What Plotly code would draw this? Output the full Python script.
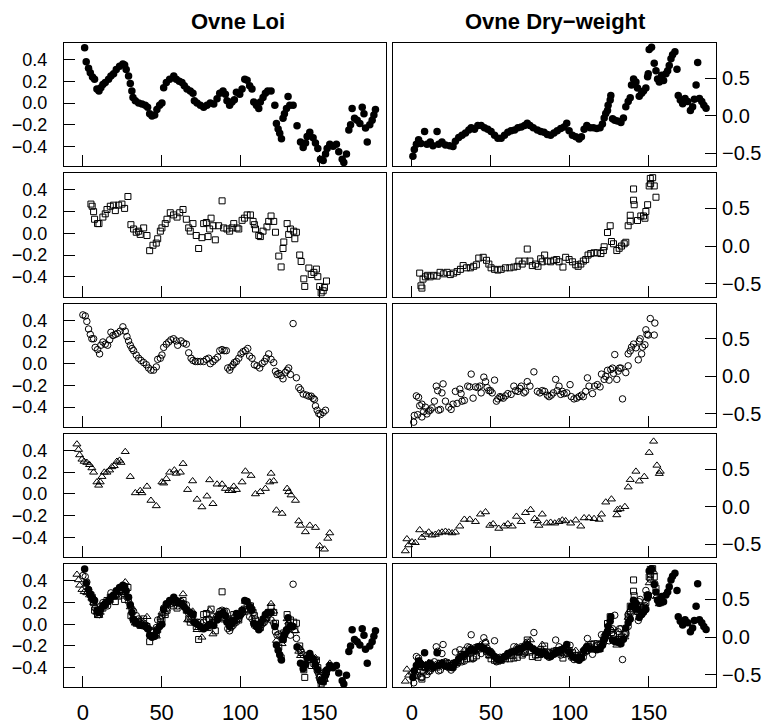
import plotly.graph_objects as go

# ---------------- data ----------------
# Ovne Loi (left column), four series
loi_a_x = [1.1, 2.1, 3.6, 4.7, 6.1, 7.4, 8.9, 10.2, 11.4, 12.7, 14.2, 16.3, 17.8, 19.5, 21.2, 23.3, 25.4, 26.5,
           27.5, 29.0, 30.1, 31.1, 31.8, 33.3, 35.4, 37.5, 39.6, 41.1, 42.4, 43.9, 45.6, 47.0, 48.7, 50.2, 51.3,
           53.0, 55.1, 57.7, 59.3, 61.2, 62.9, 64.4, 66.1, 68.2, 69.9, 70.8, 72.5, 74.6, 76.7, 78.8, 80.9, 83.1,
           85.2, 86.9, 89.0, 90.5, 91.5, 93.2, 94.7, 96.2, 97.5, 99.6, 101.1, 102.8, 104.3, 105.9, 107.4, 108.5,
           110.2, 111.7, 112.7, 114.4, 115.9, 117.4, 119.5, 121.9, 122.9, 124.0, 125.0, 126.1, 127.1, 128.0,
           129.3, 130.3, 131.4, 133.5, 136.0, 138.2, 139.9, 141.4, 142.4, 144.1, 146.2, 147.7, 149.2, 150.9,
           152.6, 154.1, 155.1, 156.8, 158.9, 161.0, 162.5, 164.7, 165.7, 167.4, 168.9, 170.0, 171.0, 172.5,
           174.2, 175.9, 177.4, 178.5, 179.5, 180.6, 182.2, 183.7, 184.8, 185.8]
loi_a_y = [0.51, 0.38, 0.32, 0.28, 0.24, 0.22, 0.13, 0.11, 0.14, 0.17, 0.19, 0.22, 0.25, 0.27, 0.31, 0.34, 0.36, 0.35,
           0.31, 0.25, 0.18, 0.11, 0.05, 0.02, 0.00, -0.01, -0.02, -0.04, -0.10, -0.12, -0.11, -0.06, -0.02, 0.00,
           0.14, 0.19, 0.22, 0.25, 0.22, 0.20, 0.19, 0.16, 0.13, 0.11, 0.09, 0.02, 0.00, -0.02, -0.04, -0.02, 0.00,
           -0.01, 0.04, 0.09, 0.11, 0.08, 0.02, -0.02, 0.01, 0.03, 0.10, 0.08, 0.13, 0.22, 0.21, 0.16, 0.13, 0.01,
           -0.02, -0.05, 0.01, 0.05, 0.09, 0.11, 0.11, -0.02, -0.19, -0.24, -0.28, -0.33, -0.14, -0.10, -0.05,
           0.06, -0.02, -0.02, -0.21, -0.36, -0.41, -0.37, -0.31, -0.27, -0.32, -0.37, -0.42, -0.52, -0.53,
           -0.47, -0.42, -0.38, -0.40, -0.38, -0.45, -0.52, -0.55, -0.47, -0.25, -0.20, -0.05, -0.14, -0.16,
           -0.19, -0.04, -0.10, -0.23, -0.36, -0.20, -0.16, -0.11, -0.06]

loi_b_x = [5.1, 5.9, 6.8, 7.4, 9.3, 10.2, 12.7, 14.2, 15.3, 17.4, 19.5, 20.6, 22.7, 24.8, 26.5, 28.6, 30.5, 32.2,
           33.9, 35.4, 36.4, 38.6, 40.7, 42.4, 44.5, 46.6, 47.5, 49.2, 50.2, 52.3, 53.4, 55.5, 57.6, 59.8, 61.5,
           63.6, 65.7, 67.2, 68.2, 69.9, 72.0, 73.5, 75.6, 76.7, 78.4, 79.5, 80.5, 81.4, 82.7, 84.1, 86.2, 88.4,
           89.4, 91.5, 93.2, 94.7, 95.8, 97.9, 99.0, 101.1, 102.6, 104.3, 106.4, 108.1, 108.9, 109.6, 111.7,
           112.7, 114.4, 116.9, 118.0, 119.5, 121.2, 122.3, 124.4, 125.9, 127.1, 127.6, 129.7, 130.7, 131.8,
           133.9, 134.6, 135.6, 137.7, 138.6, 140.3, 140.9, 143.5, 145.0, 146.7, 148.3, 149.2, 150.4, 151.3,
           152.6, 153.4, 154.7]
loi_b_y = [0.27, 0.25, 0.20, 0.13, 0.09, 0.09, 0.15, 0.18, 0.22, 0.25, 0.26, 0.21, 0.26, 0.27, 0.23, 0.34, 0.08, 0.04,
           0.01, 0.02, -0.01, 0.05, -0.02, -0.16, -0.11, -0.09, -0.05, 0.02, 0.05, 0.09, 0.13, 0.19, 0.17, 0.15,
           0.19, 0.22, 0.13, 0.05, 0.02, 0.09, -0.02, -0.14, -0.04, 0.09, 0.10, -0.03, 0.04, 0.14, 0.07, -0.06,
           0.07, 0.30, 0.05, 0.04, 0.02, 0.05, 0.09, 0.05, 0.04, 0.12, 0.14, 0.17, 0.17, 0.11, 0.08, 0.04, -0.02,
           -0.03, 0.02, 0.06, 0.11, 0.16, 0.11, 0.01, -0.21, -0.31, -0.14, -0.08, 0.09, -0.01, 0.04, 0.02,
           -0.05, 0.01, -0.20, -0.26, -0.42, -0.49, -0.32, -0.38, -0.36, -0.33, -0.40, -0.49, -0.55, -0.53,
           -0.50, -0.44]

loi_c_x = [0.0, 1.5, 2.5, 3.6, 4.7, 5.7, 6.8, 7.8, 9.3, 10.6, 11.4, 12.7, 14.2, 15.7, 17.0, 17.8, 19.1, 20.6, 22.0,
           23.7, 25.4, 26.9, 28.0, 29.0, 30.1, 31.2, 32.2, 33.9, 35.4, 36.9, 38.6, 40.3, 41.7, 43.2, 44.9, 46.6,
           47.5, 49.2, 50.2, 51.3, 53.0, 54.5, 55.9, 57.6, 59.3, 60.2, 62.3, 64.0, 65.7, 67.2, 68.7, 69.9, 71.4,
           72.9, 74.6, 76.7, 78.4, 79.9, 80.9, 82.6, 84.1, 85.6, 86.9, 88.4, 89.8, 91.1, 92.0, 93.2, 94.1, 95.4,
           96.2, 97.5, 99.0, 100.4, 101.7, 103.2, 104.7, 105.9, 107.4, 108.9, 110.6, 112.3, 113.8, 115.3, 116.5,
           118.0, 119.5, 121.2, 122.3, 123.3, 124.4, 125.9, 127.1, 128.6, 129.7, 130.7, 131.8, 133.5, 135.6,
           137.1, 138.2, 139.9, 142.0, 143.5, 145.0, 146.2, 147.1, 147.7, 148.8, 149.8, 150.9, 152.6, 154.1]
loi_c_y = [0.45, 0.44, 0.39, 0.32, 0.27, 0.23, 0.23, 0.15, 0.13, 0.09, 0.17, 0.20, 0.18, 0.17, 0.22, 0.29, 0.26, 0.27,
           0.28, 0.30, 0.34, 0.30, 0.25, 0.21, 0.17, 0.14, 0.12, 0.08, 0.05, 0.03, 0.01, -0.01, -0.04, -0.06,
           -0.06, -0.03, 0.04, 0.05, 0.08, 0.15, 0.18, 0.20, 0.22, 0.23, 0.21, 0.17, 0.21, 0.19, 0.18, 0.10, 0.05,
           0.03, 0.02, 0.02, 0.02, 0.02, 0.04, 0.05, 0.00, 0.02, 0.04, 0.06, 0.12, 0.13, 0.12, 0.12, -0.04, -0.06,
           -0.03, -0.01, 0.01, 0.02, 0.05, 0.09, 0.11, 0.12, 0.14, 0.07, 0.05, -0.01, -0.02, -0.04, 0.00, 0.02,
           0.05, 0.09, 0.04, 0.01, -0.07, -0.10, -0.09, -0.11, -0.14, -0.08, -0.06, -0.04, -0.10, 0.37, -0.13,
           -0.22, -0.24, -0.28, -0.29, -0.30, -0.30, -0.32, -0.33, -0.39, -0.43, -0.46, -0.47, -0.45, -0.43]

loi_d_x = [-3.8, -2.8, -2.1, -0.6, 0.8, 2.5, 4.2, 5.7, 6.8, 8.9, 10.0, 11.0, 12.1, 13.6, 15.3, 17.0, 18.4, 19.9,
           21.6, 23.3, 24.2, 26.9, 30.1, 33.3, 36.4, 37.5, 40.7, 43.2, 46.6, 50.2, 51.3, 53.0, 55.1, 58.1, 59.3,
           61.9, 63.6, 66.5, 69.7, 72.5, 75.6, 78.8, 80.5, 82.6, 85.2, 88.4, 90.5, 92.6, 94.7, 95.8, 97.5, 101.1,
           103.2, 106.8, 109.6, 112.7, 115.9, 118.7, 119.5, 121.2, 122.9, 126.5, 129.7, 130.7, 132.2, 135.0,
           137.1, 138.2, 141.3, 144.1, 147.7, 150.4, 153.4, 155.5, 156.8]
loi_d_y = [0.46, 0.41, 0.36, 0.32, 0.30, 0.29, 0.27, 0.24, 0.20, 0.11, 0.08, 0.11, 0.16, 0.20, 0.20, 0.22, 0.25, 0.26,
           0.30, 0.31, 0.29, 0.39, 0.16, 0.01, 0.03, 0.01, 0.07, -0.06, -0.11, 0.11, 0.10, 0.14, 0.20, 0.22, 0.19,
           0.20, 0.28, 0.04, 0.12, -0.05, -0.12, -0.02, 0.13, -0.09, 0.09, 0.09, 0.05, 0.03, 0.03, 0.07, 0.04,
           0.11, 0.21, 0.17, 0.00, 0.02, 0.05, 0.11, 0.19, 0.12, -0.15, -0.18, 0.05, 0.02, -0.01, -0.06, -0.25,
           -0.29, -0.35, -0.29, -0.31, -0.48, -0.51, -0.41, -0.36]

# Ovne Dry-weight (right column), four series
dw_a_x = [0.6, 1.5, 2.8, 4.2, 5.7, 8.0, 9.5, 11.6, 13.3, 15.9, 16.9, 19.0, 21.2, 23.9, 26.0, 27.5, 29.6, 31.7,
          33.9, 36.0, 37.5, 39.6, 41.7, 43.8, 45.9, 48.0, 50.1, 52.3, 54.4, 56.5, 58.6, 60.7, 62.8, 65.0, 67.1,
          69.2, 71.3, 73.0, 74.7, 76.8, 79.4, 81.5, 83.6, 85.7, 87.8, 89.9, 92.0, 94.2, 96.3, 98.0, 99.5, 101.6,
          103.7, 105.8, 107.3, 109.0, 110.7, 112.8, 114.9, 117.0, 119.1, 120.6, 121.7, 122.7, 123.8, 124.2,
          125.5, 125.9, 127.0, 128.4, 130.1, 132.3, 133.9, 135.4, 136.9, 138.2, 139.0, 140.3, 141.8, 142.8,
          143.9, 145.4, 146.6, 148.1, 149.2, 149.6, 150.2, 151.7, 153.4, 154.5, 155.5, 156.6, 158.1, 159.3,
          160.8, 161.9, 162.9, 164.0, 165.0, 166.5, 167.8, 168.6, 169.9, 171.4, 172.9, 174.6, 176.3, 177.7,
          178.8, 179.9, 180.9, 182.0, 183.5, 184.8, 186.2]
dw_a_y = [-0.54, -0.45, -0.38, -0.32, -0.37, -0.21, -0.38, -0.35, -0.40, -0.21, -0.38, -0.35, -0.39, -0.40, -0.41,
          -0.34, -0.29, -0.26, -0.23, -0.19, -0.16, -0.18, -0.13, -0.13, -0.16, -0.18, -0.21, -0.26, -0.30, -0.30,
          -0.26, -0.22, -0.20, -0.19, -0.16, -0.15, -0.13, -0.10, -0.13, -0.16, -0.19, -0.21, -0.22, -0.25, -0.26,
          -0.23, -0.20, -0.17, -0.15, -0.10, -0.20, -0.26, -0.28, -0.31, -0.28, -0.18, -0.13, -0.16, -0.16, -0.17,
          -0.16, -0.11, -0.03, 0.03, 0.07, 0.14, 0.21, 0.27, -0.04, -0.06, -0.07, -0.09, -0.03, 0.12, 0.19, 0.24,
          0.41, 0.49, 0.45, 0.37, 0.26, 0.30, 0.33, 0.37, 0.52, 0.56, 0.88, 0.91, 0.70, 0.60, 0.49, 0.45, 0.54,
          0.47, 0.56, 0.60, 0.67, 0.76, 0.81, 0.85, 0.62, 0.27, 0.21, 0.16, 0.23, 0.19, 0.07, 0.12, 0.22, 0.41,
          0.71, 0.23, 0.19, 0.14, 0.10]

dw_b_x = [4.9, 5.7, 6.3, 7.0, 8.5, 9.9, 11.6, 13.8, 15.9, 17.8, 20.1, 22.2, 24.3, 26.4, 28.6, 30.7, 32.4, 34.5,
          37.0, 39.1, 40.8, 42.3, 45.1, 47.2, 48.7, 50.1, 52.3, 54.4, 56.5, 59.2, 62.0, 64.5, 66.7, 67.7, 69.8,
          71.5, 73.0, 74.7, 76.2, 78.3, 79.8, 81.5, 82.5, 84.0, 85.7, 87.8, 89.9, 91.6, 93.1, 95.6, 97.3, 99.5,
          101.6, 103.7, 105.2, 106.9, 108.5, 110.0, 111.5, 113.2, 115.3, 117.4, 119.6, 121.2, 121.7, 123.8,
          125.5, 126.3, 127.6, 129.7, 131.2, 132.7, 134.4, 135.4, 136.9, 138.2, 138.2, 140.3, 140.7, 140.3,
          142.8, 144.9, 146.6, 147.5, 148.1, 149.2, 150.2, 150.9, 151.1, 152.4, 153.4, 154.5]
dw_b_y = [-0.36, -0.53, -0.56, -0.44, -0.41, -0.39, -0.41, -0.39, -0.40, -0.35, -0.37, -0.35, -0.38, -0.36, -0.34,
          -0.31, -0.26, -0.29, -0.29, -0.27, -0.25, -0.16, -0.15, -0.19, -0.24, -0.29, -0.31, -0.32, -0.31, -0.29,
          -0.29, -0.28, -0.27, -0.20, -0.24, -0.20, -0.04, -0.20, -0.26, -0.24, -0.27, -0.17, -0.21, -0.12, -0.20,
          -0.21, -0.19, -0.18, -0.21, -0.28, -0.15, -0.18, -0.21, -0.25, -0.27, -0.24, -0.20, -0.18, -0.12, -0.10,
          -0.09, -0.09, -0.10, -0.06, -0.01, 0.18, 0.27, 0.06, 0.03, -0.06, -0.03, 0.00, 0.03, 0.05, 0.27, 0.33,
          0.41, 0.61, 0.55, 0.76, 0.34, 0.40, 0.40, 0.37, 0.46, 0.55, 0.80, 0.90, 0.83, 0.91, 0.80, 0.65]

dw_c_x = [1.1, 1.5, 2.8, 4.2, 3.6, 4.9, 6.3, 6.3, 7.4, 8.5, 9.5, 10.6, 11.6, 12.7, 14.2, 15.4, 16.3, 16.9, 18.0,
          19.0, 19.7, 21.2, 23.3, 24.8, 26.0, 27.5, 28.6, 30.3, 31.1, 31.7, 33.2, 35.3, 36.6, 37.5, 38.7, 40.2,
          41.7, 43.0, 43.8, 45.5, 46.6, 47.6, 48.7, 49.7, 50.8, 52.3, 53.5, 54.4, 55.7, 56.5, 57.8, 59.2, 60.7,
          62.8, 64.5, 65.6, 67.1, 68.3, 69.2, 70.9, 71.9, 73.0, 74.7, 77.2, 79.4, 81.0, 82.5, 84.0, 85.7, 86.8,
          88.2, 89.5, 91.0, 92.0, 93.1, 94.2, 95.2, 96.3, 98.0, 100.1, 100.9, 102.6, 104.3, 105.8, 107.3, 108.5,
          110.0, 111.1, 112.1, 114.3, 115.7, 117.4, 119.1, 120.0, 121.7, 122.7, 123.8, 124.8, 125.9, 127.0,
          127.6, 128.4, 129.7, 130.6, 131.4, 132.3, 133.3, 135.4, 136.9, 136.9, 138.2, 139.0, 140.3, 141.8,
          143.3, 143.9, 144.5, 145.4, 146.0, 147.5, 148.1, 148.8, 149.6, 150.9, 153.4, 153.8]
dw_c_y = [-0.61, -0.52, -0.26, -0.28, -0.51, -0.39, -0.37, -0.54, -0.47, -0.41, -0.50, -0.46, -0.45, -0.42, -0.33,
          -0.13, -0.19, -0.45, -0.44, -0.22, -0.10, -0.33, -0.41, -0.44, -0.37, -0.20, -0.36, -0.17, -0.23, -0.33,
          -0.32, -0.13, -0.14, 0.03, -0.29, -0.14, -0.15, -0.13, -0.22, -0.01, -0.07, -0.15, -0.19, -0.19, -0.22,
          -0.05, -0.33, -0.30, -0.27, -0.28, -0.29, -0.26, -0.23, -0.24, -0.13, -0.19, -0.20, -0.16, -0.13, -0.22,
          -0.20, -0.07, -0.13, 0.06, -0.20, -0.22, -0.19, -0.20, -0.25, -0.27, -0.25, -0.22, -0.04, -0.19, -0.13,
          -0.24, -0.20, -0.23, -0.22, -0.11, -0.27, -0.30, -0.29, -0.27, -0.25, -0.27, -0.20, -0.02, -0.13, -0.23,
          -0.13, -0.11, -0.14, 0.03, -0.04, 0.00, 0.08, -0.05, 0.09, 0.11, 0.04, 0.29, -0.04, 0.07, 0.11, 0.11,
          -0.30, 0.05, 0.14, 0.30, 0.34, 0.39, 0.43, 0.38, 0.22, 0.47, 0.50, 0.30, 0.39, 0.42, 0.62, 0.56, 0.55,
          0.77, 0.55, 0.71]

dw_d_x = [-4.2, -3.2, -2.1, 0.0, 2.1, 4.9, 6.3, 8.5, 10.6, 12.7, 14.8, 16.9, 19.0, 21.2, 23.3, 25.4, 27.5, 30.3,
          33.2, 36.6, 40.2, 43.4, 46.6, 49.3, 51.4, 55.0, 58.2, 60.7, 63.5, 66.2, 69.2, 71.9, 75.1, 77.7, 79.4,
          80.4, 82.5, 85.3, 87.8, 90.4, 93.1, 95.2, 97.3, 100.5, 103.7, 106.9, 109.0, 112.1, 115.3, 118.5, 120.0,
          122.7, 126.3, 129.7, 130.1, 131.8, 134.8, 136.9, 138.2, 141.8, 143.9, 147.1, 150.2, 153.0, 155.1, 156.6,
          157.2]
dw_d_y = [-0.59, -0.43, -0.51, -0.47, -0.48, -0.31, -0.41, -0.37, -0.34, -0.38, -0.37, -0.35, -0.34, -0.33, -0.34,
          -0.35, -0.34, -0.26, -0.17, -0.17, -0.20, -0.10, -0.07, -0.25, -0.23, -0.29, -0.26, -0.23, -0.26, -0.13,
          -0.20, -0.08, -0.04, -0.16, -0.19, -0.25, -0.10, -0.22, -0.21, -0.22, -0.20, -0.18, -0.19, -0.22, -0.18,
          -0.26, -0.15, -0.15, -0.16, -0.17, -0.10, 0.06, 0.10, -0.11, -0.04, -0.03, 0.00, 0.26, 0.36, 0.47, 0.34,
          0.40, 0.72, 0.87, 0.55, 0.44, 0.47]

column_titles = ["Ovne Loi", "Ovne Dry\u2212weight"]
x_ticks = [0, 50, 100, 150]
loi_ticks = [-0.4, -0.2, 0.0, 0.2, 0.4]
dw_ticks = [-0.5, 0.0, 0.5]

# ---------------- figure ----------------
W, H = 774, 725
FONT = "Liberation Sans"

styles = [
    dict(symbol="circle", size=7.5, color="black", line=dict(width=0)),
    dict(symbol="square-open", size=6, color="black", line=dict(width=1, color="black")),
    dict(symbol="circle-open", size=6.5, color="black", line=dict(width=1, color="black")),
    dict(symbol="triangle-up-open", size=7, color="black", line=dict(width=1, color="black")),
]

loi_series = [(loi_a_x, loi_a_y), (loi_b_x, loi_b_y), (loi_c_x, loi_c_y), (loi_d_x, loi_d_y)]
dw_series = [(dw_a_x, dw_a_y), (dw_b_x, dw_b_y), (dw_c_x, dw_c_y), (dw_d_x, dw_d_y)]

col_px = [(64, 386), (393, 716)]
row_top0, row_pitch, row_h = 43.5, 131.6, 124.3

fig = go.Figure()
layout = {}


def fmt(v):
    s = f"{v:.1f}"
    return s.replace("-", "\u2212")


for r in range(5):
    top = row_top0 + r * row_pitch
    bot = top + row_h
    for c in range(2):
        k = r * 2 + c + 1
        xa = "x" if k == 1 else f"x{k}"
        ya = "y" if k == 1 else f"y{k}"
        series = loi_series if c == 0 else dw_series
        idx = [r] if r < 4 else [0, 1, 2, 3]
        for i in idx:
            sx, sy = series[i]
            fig.add_trace(go.Scatter(x=sx, y=sy, mode="markers", marker=styles[i],
                                     xaxis=xa, yaxis=ya, showlegend=False, hoverinfo="skip"))
        x0, x1 = col_px[c]
        layout["xaxis" if k == 1 else f"xaxis{k}"] = dict(
            domain=[x0 / W, x1 / W], anchor=ya, range=[-12, 192.5],
            tickvals=x_ticks, ticktext=[str(t) for t in x_ticks],
            showticklabels=(r == 4), ticks="inside", ticklen=11, tickwidth=1, tickcolor="black",
            showline=True, mirror=True, linecolor="black", linewidth=1,
            showgrid=False, zeroline=False, fixedrange=True,
            tickfont=dict(family=FONT, size=22, color="black"), ticklabelstandoff=5,
        )
        if c == 0:
            yrng, yt, side, fs, so = [-0.583, 0.553], loi_ticks, "left", 18, 12
        else:
            yrng, yt, side, fs, so = [-0.672, 0.967], dw_ticks, "right", 20, 1
        layout["yaxis" if k == 1 else f"yaxis{k}"] = dict(
            domain=[1 - bot / H, 1 - top / H], anchor=xa, range=yrng, side=side,
            tickvals=yt, ticktext=[fmt(v) for v in yt],
            ticks="inside", ticklen=11, tickwidth=1, tickcolor="black",
            showline=True, mirror=True, linecolor="black", linewidth=1,
            showgrid=False, zeroline=False, fixedrange=True,
            tickfont=dict(family=FONT, size=fs, color="black"), ticklabelstandoff=so,
        )

annotations = [
    dict(text=f"<b>{column_titles[0]}</b>", x=238 / W, y=1 - 22 / H, xref="paper", yref="paper",
         showarrow=False, xanchor="center", yanchor="middle", font=dict(family=FONT, size=22, color="black")),
    dict(text=f"<b>{column_titles[1]}</b>", x=555 / W, y=1 - 22 / H, xref="paper", yref="paper",
         showarrow=False, xanchor="center", yanchor="middle", font=dict(family=FONT, size=22, color="black")),
]

fig.update_layout(
    width=W, height=H, margin=dict(l=0, r=0, t=0, b=0),
    paper_bgcolor="white", plot_bgcolor="white",
    annotations=annotations, **layout,
)

fig.write_html("out.html", config={"displayModeBar": False})
